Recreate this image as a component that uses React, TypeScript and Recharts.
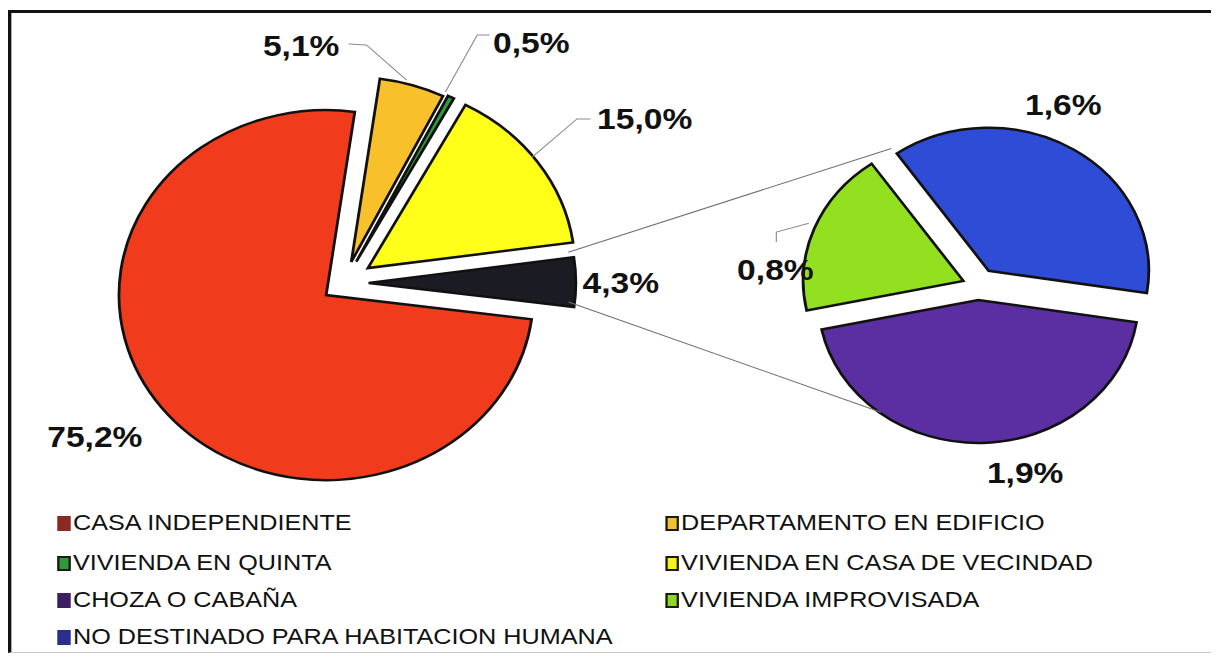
import { PieChart, Pie, Cell } from "recharts";

// main pie (clockwise from the right side), last slice is the "others" group
const mainNames = [
  "CASA INDEPENDIENTE",
  "DEPARTAMENTO EN EDIFICIO",
  "VIVIENDA EN QUINTA",
  "VIVIENDA EN CASA DE VECINDAD",
  "OTROS",
];
const mainValues = [75.2, 5.1, 0.5, 15.0, 4.3];

// second pie: breakdown of "OTROS"
const detailNames = ["CHOZA O CABAÑA", "VIVIENDA IMPROVISADA", "NO DESTINADO PARA HABITACION HUMANA"];
const detailValues = [1.9, 0.8, 1.6];

const legendNames = [
  "CASA INDEPENDIENTE",
  "DEPARTAMENTO EN EDIFICIO",
  "VIVIENDA EN QUINTA",
  "VIVIENDA EN CASA DE VECINDAD",
  "CHOZA O CABAÑA",
  "VIVIENDA IMPROVISADA",
  "NO DESTINADO PARA HABITACION HUMANA",
];

const mainColors = ["#F03C1C", "#F8C12C", "#2E9B3C", "#FFFF1A", "#1B1B24"];
const detailColors = ["#5B2FA2", "#92E01F", "#2F4CD6"];
const legendColors = ["#8A2A22", "#F2C22C", "#2E9A3A", "#F7F21C", "#3C1E62", "#8ED81E", "#2A2F8E"];
const legendBorder = [false, true, true, true, false, true, false];

const mainExplode = [20, 22, 24, 26, 22];
const detailExplode = [14, 14, 18];

const SX = 1.12; // the original is a bit wider than tall
const W = 1076;
const H = 645;
const MAIN = { cx: 295, cy: 270, r: 185, start: -7.5 };
const DETAIL = { cx: 861, cy: 273, r: 143, start: -9 };
const RAD = Math.PI / 180;
const FONT = '"Liberation Sans", Arial, sans-serif';

const fmt = (v: number) => v.toFixed(1).replace(".", ",") + "%";

function sliceAngles(values: number[], start: number) {
  const total = values.reduce((a, b) => a + b, 0);
  let acc = start;
  return values.map((v) => {
    const s = acc;
    const e = acc - (v / total) * 360;
    acc = e;
    return { s, e, mid: (s + e) / 2 };
  });
}

const polar = (cx: number, cy: number, r: number, a: number) => ({
  x: cx + r * Math.cos(a * RAD),
  y: cy - r * Math.sin(a * RAD),
});

const mainAngles = sliceAngles(mainValues, MAIN.start);
const detailAngles = sliceAngles(detailValues, DETAIL.start);
const mainCenters = mainAngles.map((a, i) => polar(MAIN.cx, MAIN.cy, mainExplode[i], a.mid));
const detailCenters = detailAngles.map((a, i) => polar(DETAIL.cx, DETAIL.cy, detailExplode[i], a.mid));

const mainData = mainNames.map((name, i) => ({ name, value: mainValues[i] }));
const detailData = detailNames.map((name, i) => ({ name, value: detailValues[i] }));

// label placement: text anchor point plus optional leader elbow points
const mainLabelPos = [
  { x: 35, y: 439, anchor: "start", leader: null },
  { x: 296, y: 48, anchor: "end", leader: [[320, 37], [304, 36]] },
  { x: 433, y: 45, anchor: "start", leader: [[419, 27], [430, 27]] },
  { x: 526, y: 121, anchor: "start", leader: [[508, 111], [520, 111]] },
  { x: 513, y: 285, anchor: "start", leader: null },
];
const detailLabelPos = [
  { x: 874, y: 475, anchor: "start", leader: null },
  { x: 651, y: 272, anchor: "start", leader: [[686, 224], [686, 234]] },
  { x: 908, y: 107, anchor: "start", leader: null },
];

function LabelText({ x, y, anchor, text }: any) {
  return (
    <text x={x} y={y} textAnchor={anchor} fontFamily={FONT} fontSize={30} fontWeight="bold" fill="#111">
      {text}
    </text>
  );
}

function leaderPath(from: { x: number; y: number }, pts: number[][]) {
  return [`${from.x},${from.y}`, ...pts.map((p) => `${p[0]},${p[1]}`)].join(" ");
}

const mainLabel = (k: number) => (props: any) => {
  const idx = props.index ?? mainNames.indexOf(props.name);
  if (idx !== k) return null;
  const pos = mainLabelPos[k];
  const c = mainCenters[k];
  const edge = polar(c.x, c.y, MAIN.r, mainAngles[k].mid);
  let connectors = null;
  if (k === mainValues.length - 1) {
    // lines from the grouped slice to the second pie
    const bi = detailValues.length - 1;
    const upA = detailAngles[bi].s;
    const top = polar(c.x, c.y, MAIN.r, mainAngles[k].s);
    const bottom = polar(c.x, c.y, MAIN.r, mainAngles[k].e);
    const topEnd = polar(detailCenters[bi].x, detailCenters[bi].y, DETAIL.r, upA);
    const botEnd = polar(detailCenters[0].x, detailCenters[0].y, DETAIL.r, -(upA + 360));
    connectors = (
      <g stroke="#6f6f6f" strokeWidth={1}>
        <line x1={top.x} y1={top.y} x2={topEnd.x} y2={topEnd.y} />
        <line x1={bottom.x} y1={bottom.y} x2={botEnd.x} y2={botEnd.y} />
      </g>
    );
  }
  return (
    <g>
      {connectors}
      {pos.leader && (
        <polyline points={leaderPath(edge, pos.leader)} fill="none" stroke="#8a8a8a" strokeWidth={1} />
      )}
      <LabelText x={pos.x} y={pos.y} anchor={pos.anchor} text={fmt(mainValues[k])} />
    </g>
  );
};

const detailLabel = (k: number) => (props: any) => {
  const idx = props.index ?? detailNames.indexOf(props.name);
  if (idx !== k) return null;
  const pos = detailLabelPos[k];
  const c = detailCenters[k];
  const edge = polar(c.x, c.y, DETAIL.r, detailAngles[k].mid);
  return (
    <g>
      {pos.leader && (
        <polyline points={leaderPath(edge, pos.leader)} fill="none" stroke="#8a8a8a" strokeWidth={1} />
      )}
      <LabelText x={pos.x} y={pos.y} anchor={pos.anchor} text={fmt(detailValues[k])} />
    </g>
  );
};

const legendColX = [44, 587];
const legendRowY = [515, 555, 592, 629];

export default function App() {
  return (
    <div
      style={{
        position: "relative",
        width: W,
        height: H,
        transform: `scaleX(${SX})`,
        transformOrigin: "0 0",
        background: "#fff",
        fontFamily: FONT,
      }}
    >
      <div
        style={{
          position: "absolute",
          left: 0,
          top: 2,
          width: W,
          height: H - 2,
          boxSizing: "border-box",
          borderLeft: "3px solid #111",
          borderTop: "3px solid #111",
          borderBottom: "1px solid #c8c8c8",
        }}
      />
      <div style={{ position: "absolute", left: 0, top: 0 }}>
        <PieChart width={W} height={500}>
          {mainValues.map((_, k) => (
            <Pie
              key={"m" + k}
              data={mainData}
              dataKey="value"
              nameKey="name"
              cx={mainCenters[k].x}
              cy={mainCenters[k].y}
              outerRadius={MAIN.r}
              startAngle={MAIN.start}
              endAngle={MAIN.start - 360}
              isAnimationActive={false}
              label={mainLabel(k)}
              labelLine={false}
            >
              {mainData.map((_, i) => (
                <Cell
                  key={i}
                  fill={i === k ? mainColors[i] : "none"}
                  stroke={i === k ? "#111" : "none"}
                  strokeWidth={2.5}
                />
              ))}
            </Pie>
          ))}
          {detailValues.map((_, k) => (
            <Pie
              key={"d" + k}
              data={detailData}
              dataKey="value"
              nameKey="name"
              cx={detailCenters[k].x}
              cy={detailCenters[k].y}
              outerRadius={DETAIL.r}
              startAngle={DETAIL.start}
              endAngle={DETAIL.start - 360}
              isAnimationActive={false}
              label={detailLabel(k)}
              labelLine={false}
            >
              {detailData.map((_, i) => (
                <Cell
                  key={i}
                  fill={i === k ? detailColors[i] : "none"}
                  stroke={i === k ? "#111" : "none"}
                  strokeWidth={2.5}
                />
              ))}
            </Pie>
          ))}
        </PieChart>
      </div>
      {legendNames.map((name, i) => (
        <div
          key={name}
          style={{
            position: "absolute",
            left: legendColX[i % 2],
            top: legendRowY[Math.floor(i / 2)] - 13,
            height: 26,
            display: "flex",
            alignItems: "center",
            whiteSpace: "nowrap",
          }}
        >
          <span
            style={{
              display: "inline-block",
              width: 12,
              height: 15,
              boxSizing: "border-box",
              background: legendColors[i],
              border: legendBorder[i] ? "2px solid #1a1a1a" : "none",
              marginRight: 2,
            }}
          />
          <span style={{ fontSize: 22.5, color: "#111", lineHeight: "26px" }}>{name}</span>
        </div>
      ))}
    </div>
  );
}
